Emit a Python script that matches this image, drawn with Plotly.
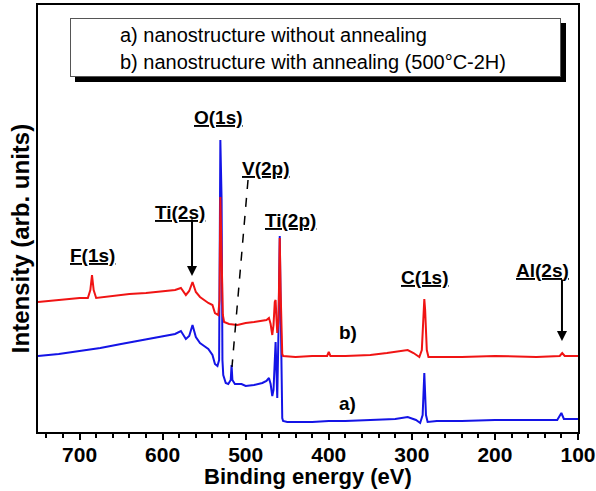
import plotly.graph_objects as go

# Binding energy (eV) and intensity (arb. units)
energy_a = [750, 725, 700, 675, 650, 625, 600, 585, 578, 572, 568, 564, 560, 555, 550, 545, 540, 537, 534, 532,
            530.5, 529, 528, 527, 524, 521, 518, 517, 516, 513, 505, 500, 490, 480, 475, 472, 470, 468, 466.5,
            465, 464, 463, 462, 460.5, 459, 458, 457, 456, 455, 450, 420, 400, 380, 340, 320, 305, 295, 290,
            287, 285, 283, 281, 270, 240, 200, 150, 125, 120, 117, 100]
intens_a = [76, 78, 81, 84, 88, 92, 96, 98, 101, 93, 96, 107, 95, 89, 86, 83, 77, 68, 66, 72,
            292, 232, 72, 57, 49, 48, 52, 67, 52, 48, 48, 46, 47, 49, 51, 54, 48, 36, 42,
            87, 90, 62, 34, 102, 196, 132, 42, 14, 11, 10, 10, 11, 11, 12, 13, 15, 12, 9,
            17, 59, 17, 10, 11, 11, 12, 12, 12, 19, 13, 13]

energy_b = [750, 725, 700, 690, 687, 685, 683, 680, 660, 640, 620, 600, 585, 578, 572, 568, 564, 560, 555, 550,
            545, 540, 537, 533, 531.5, 530.5, 529, 527.5, 526, 520, 510, 500, 490, 480, 475, 472, 470, 468,
            466.5, 465, 464, 463, 462, 460.5, 459, 458, 457, 456, 455, 440, 420, 402, 400, 398, 380, 350, 330,
            315, 305, 298, 291, 288, 286, 285, 284, 282, 280, 270, 240, 200, 150, 122, 119, 116, 100]
intens_b = [130, 132, 134, 134, 142, 157, 142, 134, 136, 138, 139, 141, 142, 144, 137, 141, 150, 140, 135, 132,
            129, 127, 119, 117, 132, 235, 182, 117, 110, 108, 107, 109, 110, 111, 112, 114, 108, 97,
            107, 130, 132, 114, 99, 112, 194, 142, 92, 78, 76, 75, 76, 76, 80, 76, 76, 77, 79,
            81, 82, 79, 75, 82, 122, 133, 122, 82, 75, 75, 75, 76, 75, 76, 79, 76, 76]

legend_lines = ["a) nanostructure without annealing", "b) nanostructure with annealing (500°C-2H)"]
peak_labels = ["O(1s)", "V(2p)", "Ti(2s)", "Ti(2p)", "F(1s)", "C(1s)", "Al(2s)"]
peak_label_x = [532.2, 475.6, 579.1, 445.5, 685.0, 284.2, 143.3]
peak_label_y = [315, 264, 220, 212, 177, 155, 162]

FONT = "Liberation Sans, Arial, sans-serif"

fig = go.Figure()
fig.add_trace(go.Scatter(x=energy_a, y=intens_a, mode="lines",
                         line=dict(color="#1414e6", width=2), showlegend=False))
fig.add_trace(go.Scatter(x=energy_b, y=intens_b, mode="lines",
                         line=dict(color="#f01414", width=2), showlegend=False))

for t, x, y in zip(peak_labels, peak_label_x, peak_label_y):
    fig.add_annotation(x=x, y=y, xref="x", yref="y",
                       text=f"<b><span style='text-decoration:underline'>{t}</span></b>",
                       showarrow=False, font=dict(family=FONT, size=19, color="black"))

# curve labels
fig.add_annotation(x=377, y=100, text="<b>b)</b>", showarrow=False,
                   font=dict(family=FONT, size=19, color="black"))
fig.add_annotation(x=378, y=29, text="<b>a)</b>", showarrow=False,
                   font=dict(family=FONT, size=19, color="black"))

# arrows
fig.add_annotation(x=564.6, y=156, ax=564.6, ay=214, xref="x", yref="y", axref="x", ayref="y",
                   text="", showarrow=True, arrowhead=2, arrowsize=1, arrowwidth=2, arrowcolor="black")
fig.add_annotation(x=119.3, y=91, ax=119.3, ay=154, xref="x", yref="y", axref="x", ayref="y",
                   text="", showarrow=True, arrowhead=2, arrowsize=1, arrowwidth=2, arrowcolor="black")
# dashed line for V(2p)
fig.add_shape(type="line", x0=497.2, y0=252, x1=516.5, y1=65, xref="x", yref="y",
              line=dict(color="black", width=1.5, dash="dash"))

# legend box with drop shadow (built from annotations so the stacking order is explicit)
box_x, box_y = 0.5139, 0.9005
fig.add_annotation(x=box_x, y=box_y, xref="paper", yref="paper", text=" ", showarrow=False,
                   width=489, height=57, bgcolor="black", bordercolor="black", borderwidth=1, borderpad=0,
                   xshift=5, yshift=-5, xanchor="center", yanchor="middle")
fig.add_annotation(x=box_x, y=box_y, xref="paper", yref="paper", text=" ", showarrow=False,
                   width=489, height=57, bgcolor="white", bordercolor="#555", borderwidth=1, borderpad=0,
                   xanchor="center", yanchor="middle")
for t, yp in zip(legend_lines, [0.9297, 0.8665]):
    fig.add_annotation(x=0.148, y=yp, xref="paper", yref="paper", text=t, showarrow=False,
                       xanchor="left", yanchor="middle", font=dict(family=FONT, size=20, color="black"))

# axis titles as annotations
fig.add_annotation(x=-0.0333, y=0.4516, xref="paper", yref="paper", text="<b>Intensity (arb. units)</b>",
                   textangle=-90, showarrow=False, xanchor="center", yanchor="middle",
                   font=dict(family=FONT, size=24, color="black"))
fig.add_annotation(x=0.5, y=-0.1042, xref="paper", yref="paper", text="<b>Binding energy (eV)</b>",
                   showarrow=False, xanchor="center", yanchor="middle",
                   font=dict(family=FONT, size=22, color="black"))

fig.update_xaxes(range=[750, 100], dtick=100, tick0=100, ticks="outside", ticklen=6, tickwidth=2,
                 tickcolor="black", showline=True, linewidth=2, linecolor="black", mirror=True,
                 showgrid=False, zeroline=False, automargin=False, ticklabelstandoff=-3,
                 minor=dict(dtick=20, tick0=100, ticks="outside", ticklen=4, tickwidth=2, tickcolor="black"),
                 tickfont=dict(family=FONT, size=21, color="black"),
                 tickprefix="<b>", ticksuffix="</b>")
fig.update_yaxes(range=[0, 427], showticklabels=False, ticks="", showline=True, linewidth=2,
                 linecolor="black", mirror=True, showgrid=False, zeroline=False, automargin=False)
fig.update_layout(width=596, height=491, margin=dict(l=38, r=18, t=5, b=59),
                  plot_bgcolor="white", paper_bgcolor="white", font=dict(family=FONT))
fig.write_html("out.html")
